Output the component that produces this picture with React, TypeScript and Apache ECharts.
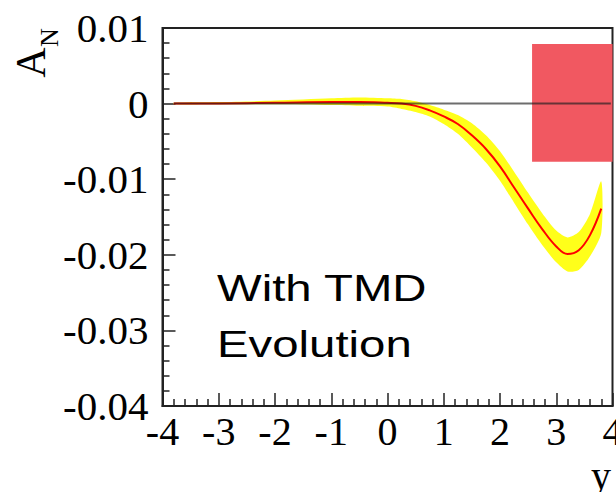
import React, { useEffect, useRef } from "react";
import * as echarts from "echarts";

const xs = [-3.8, -3, -2, -1, -0.5, 0, 0.25, 0.5, 0.75, 1, 1.25, 1.5, 1.75, 2, 2.25, 2.5, 2.75, 3, 3.2, 3.4, 3.6, 3.8];
const center = [0, 0.00002, 0.0001, 0.0002, 0.0002, 0.0001, 0.0, -0.0003, -0.0009, -0.0017, -0.0027, -0.0042, -0.006, -0.0083, -0.0111, -0.0139, -0.0166, -0.0189, -0.0199, -0.0194, -0.0174, -0.0139];
const upper = [0.0001, 0.0002, 0.0004, 0.0007, 0.0008, 0.0007, 0.0006, 0.0003, -0.0002, -0.0008, -0.0015, -0.0026, -0.0042, -0.0063, -0.009, -0.0118, -0.0145, -0.0168, -0.0177, -0.017, -0.0146, -0.0103];
const lower = [-0.0001, -0.0001, -0.0001, -0.0002, -0.0003, -0.0004, -0.0007, -0.0011, -0.0017, -0.0027, -0.004, -0.0058, -0.0078, -0.0102, -0.0131, -0.016, -0.0187, -0.021, -0.0222, -0.022, -0.0202, -0.0171];

const zeroLineX = [-3.8, 3.97];
const boxX = [2.57, 4];
const boxY = [-0.0077, 0.0079];

const xTicks = [-4, -3, -2, -1, 0, 1, 2, 3, 4];
const yTickLabels: Record<string, string> = {
  "0.01": "0.01",
  "0": "0",
  "-0.01": "-0.01",
  "-0.02": "-0.02",
  "-0.03": "-0.03",
  "-0.04": "-0.04",
};

const serif = "Liberation Serif";

export default function App() {
  const ref = useRef<HTMLDivElement>(null);
  useEffect(() => {
    if (!ref.current) return;
    const chart = echarts.init(ref.current, null, { renderer: "svg" });
    const centerData = xs.map((x, i) => [x, center[i]]);
    chart.setOption({
      animation: false,
      grid: {
        left: 162.5,
        top: 28,
        right: 3.5,
        bottom: 86,
        outerBoundsMode: "none",
        containLabel: false,
        show: true,
        borderColor: "#222",
        borderWidth: 2,
        backgroundColor: "transparent",
      },
      xAxis: {
        type: "value",
        min: -4,
        max: 4,
        interval: 1,
        axisLine: { show: true, onZero: false, lineStyle: { color: "#222", width: 2 } },
        axisTick: { show: true, inside: true, length: 13, lineStyle: { color: "#222", width: 1.5 } },
        minorTick: { show: true, splitNumber: 5, length: 7, lineStyle: { color: "#222", width: 1.5 } },
        splitLine: { show: false },
        axisLabel: {
          fontFamily: serif,
          fontSize: 40,
          color: "#000",
          margin: 5,
          hideOverlap: false,
          formatter: (v: number) => (xTicks.includes(v) ? String(v) : ""),
        },
      },
      yAxis: {
        type: "value",
        min: -0.04,
        max: 0.01,
        interval: 0.01,
        axisLine: { show: true, onZero: false, lineStyle: { color: "#222", width: 2 } },
        axisTick: { show: true, inside: true, length: 13, lineStyle: { color: "#222", width: 1.5 } },
        minorTick: { show: true, splitNumber: 5, length: 7, lineStyle: { color: "#222", width: 1.5 } },
        splitLine: { show: false },
        axisLabel: {
          fontFamily: serif,
          fontSize: 41,
          color: "#000",
          margin: 14,
          formatter: (v: number) => {
            const k = Math.abs(v) < 1e-9 ? "0" : String(Math.round(v * 100) / 100);
            return yTickLabels[k] ?? k;
          },
        },
      },
      series: [
        {
          type: "custom",
          name: "band",
          data: centerData,
          z: 2,
          markArea: {
            silent: true,
            itemStyle: { color: "#f15861" },
            data: [[{ coord: [boxX[0], boxY[1]] }, { coord: [boxX[1], boxY[0]] }]],
          },
          renderItem: (params: any, api: any) => {
            if (params.dataIndex !== 0) return null;
            const pts: number[][] = [];
            for (let i = 0; i < xs.length; i++) pts.push(api.coord([xs[i], upper[i]]));
            for (let i = xs.length - 1; i >= 0; i--) pts.push(api.coord([xs[i], lower[i]]));
            return {
              type: "polygon",
              shape: { points: pts, smooth: 0.25 },
              style: { fill: "#ffff1a", stroke: "none" },
            };
          },
        },
        {
          type: "line",
          name: "zero",
          data: zeroLineX.map((x) => [x, 0]),
          symbol: "none",
          lineStyle: { color: "rgba(30,30,30,0.65)", width: 2 },
          z: 4,
        },
        {
          type: "line",
          name: "center",
          data: centerData,
          smooth: 0.4,
          symbol: "none",
          lineStyle: { color: "#ff0000", width: 2 },
          z: 3,
        },
      ],
      graphic: [
        {
          type: "text",
          x: 217,
          y: 270,
          scaleX: 1.28,
          z: 100,
          style: { text: "With TMD", fontFamily: "Liberation Sans", fontSize: 37, fill: "#000", verticalAlign: "top" },
        },
        {
          type: "text",
          x: 217,
          y: 326,
          scaleX: 1.28,
          z: 100,
          style: { text: "Evolution", fontFamily: "Liberation Sans", fontSize: 37, fill: "#000", verticalAlign: "top" },
        },
        {
          type: "text",
          x: 31,
          y: 62.5,
          z: 100,
          rotation: Math.PI / 2,
          style: { text: "A", fontFamily: serif, fontSize: 42, fill: "#000", align: "center", verticalAlign: "middle" },
        },
        {
          type: "text",
          x: 49,
          y: 37.5,
          z: 100,
          rotation: Math.PI / 2,
          style: { text: "N", fontFamily: serif, fontSize: 26, fill: "#000", align: "center", verticalAlign: "middle" },
        },
        {
          type: "text",
          x: 601,
          y: 475,
          z: 100,
          style: { text: "y", fontFamily: serif, fontSize: 40, fill: "#000", align: "center", verticalAlign: "middle" },
        },
      ],
    });
    return () => chart.dispose();
  }, []);
  return <div ref={ref} style={{ position: "absolute", left: 0, top: 0, width: 616, height: 492 }} />;
}
